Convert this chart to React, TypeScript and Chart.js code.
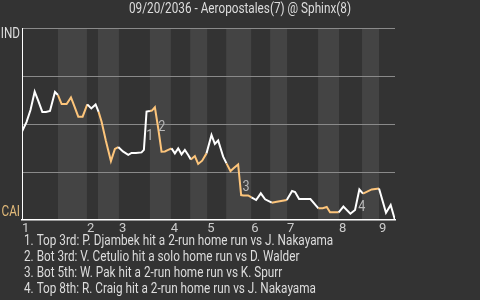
import React, { useEffect, useRef } from "react";
import { Chart, registerables } from "chart.js";

Chart.register(...registerables);

const TITLE = "09/20/2036 - Aeropostales(7) @ Sphinx(8)";
const AWAY_LABEL = "IND";
const HOME_LABEL = "CAI";

// play index (x) and away-team win probability in percent (y)
const PLAYS = [
  0, 1.35, 2.55, 3.81, 4.89, 6.1, 7.2, 8.4, 9.9, 10.8,
  11.9, 13.4, 14.7, 15.8, 16.9, 18.2, 19.6, 20.8, 22.1, 23.0,
  23.9, 25.2, 26.7, 27.9, 28.9, 30.3, 31.9, 32.9, 34.2, 35.9,
  36.6, 37.4, 38.4, 39.0, 39.9, 40.9, 41.9, 42.9, 43.9, 44.9,
  45.9, 46.9, 47.9, 48.9, 49.9, 50.7, 51.9, 52.9, 54.1, 55.4,
  56.9, 57.9, 58.9, 59.6, 60.4, 61.4, 62.6, 63.7, 64.9, 65.8,
  66.5, 67.9, 68.9, 70.3, 71.7, 73.0, 75.0, 76.5, 79.5, 81.1,
  82.0, 83.2, 86.6, 89.0, 90.3, 91.5, 92.5, 95.1, 96.5, 98.6,
  100.0, 101.3, 102.4, 105.0, 107.2, 109.3, 110.7, 112.0,
];
const WIN_PROB = [
  46, 51.0, 57.3, 66.8, 62.0, 56.3, 56.3, 56.8, 66.7, 65.1,
  60.4, 60.4, 63.8, 58.9, 53.8, 53.8, 60.2, 58.1, 60.2, 56.3,
  51.2, 41.1, 30.7, 37.0, 38.0, 35.7, 33.9, 34.9, 34.9, 35.2,
  36.5, 56.5, 56.8, 57.0, 58.7, 47.8, 35.6, 35.7, 36.5, 37.3,
  34.7, 37.3, 34.2, 36.5, 33.9, 31.5, 33.3, 29.2, 30.9, 34.7,
  44.3, 39.6, 41.4, 37.5, 33.0, 29.5, 25.5, 27.2, 28.9, 13.0,
  12.8, 12.8, 11.8, 10.4, 13.9, 10.8, 9.0, 9.5, 10.4, 15.1,
  14.6, 10.9, 10.9, 6.1, 6.1, 6.8, 4.0, 4.0, 7.0, 3.3,
  5.2, 15.9, 13.7, 15.9, 16.4, 3.8, 7.8, 0,
];
const MAX_PLAY = 112;

// half-inning boundaries (play index)
const INNING_STARTS = [0, 19.5, 29.1, 44.7, 55.6, 68.8, 79.6, 95.2, 107.2];
const BOTTOM_STARTS = [10.8, 22.8, 38.4, 50.5, 61.3, 74.5, 88.9, 102.1];
const BOTTOM_ENDS = [19.5, 29.1, 44.7, 55.6, 68.8, 79.6, 95.2, 107.2];

// home run markers
const EVENT_NUMS = ["1", "2", "3", "4"];
const EVENT_X = [38.4, 42.0, 67.3, 102.0];
const EVENT_Y = [43.8, 48.3, 17.0, 6.4];
const EVENT_TEXT = [
  "1. Top 3rd: P. Djambek hit a 2-run home run vs J. Nakayama",
  "2. Bot 3rd: V. Cetulio hit a solo home run vs D. Walder",
  "3. Bot 5th: W. Pak hit a 2-run home run vs K. Spurr",
  "4. Top 8th: R. Craig hit a 2-run home run vs J. Nakayama",
];

const BG = "#333333";
const BAND = "#444444";
const WHITE = "#ffffff";
const ORANGE = "#fdc57b";
const FONT = 'Roboto, "Noto Sans", sans-serif';
const SQUEEZE = 0.84;

const isBottom = (x: number) =>
  BOTTOM_STARTS.some((s, i) => x >= s && x < BOTTOM_ENDS[i]);

function drawText(ctx: CanvasRenderingContext2D, text: string, x: number, y: number, align: CanvasTextAlign) {
  ctx.save();
  ctx.translate(x, y);
  ctx.scale(SQUEEZE, 1);
  ctx.textAlign = align;
  ctx.fillText(text, 0, 0);
  ctx.restore();
}

export default function App() {
  const ref = useRef<HTMLCanvasElement | null>(null);

  useEffect(() => {
    const canvas = ref.current;
    if (!canvas) return;

    const bgPlugin = {
      id: "bgBands",
      beforeDraw(chart: any) {
        const { ctx, chartArea, scales } = chart;
        ctx.save();
        ctx.fillStyle = BG;
        ctx.fillRect(0, 0, chart.width, chart.height);
        ctx.fillStyle = BAND;
        BOTTOM_STARTS.forEach((s, i) => {
          const x0 = scales.x.getPixelForValue(s);
          const x1 = scales.x.getPixelForValue(BOTTOM_ENDS[i]);
          ctx.fillRect(x0, chartArea.top, x1 - x0, chartArea.bottom - chartArea.top);
        });
        ctx.restore();
      },
    };

    const textPlugin = {
      id: "texts",
      afterDraw(chart: any) {
        const { ctx, chartArea, scales } = chart;
        ctx.save();
        ctx.textBaseline = "middle";
        // title
        ctx.font = `14px ${FONT}`;
        ctx.fillStyle = "#dddddd";
        drawText(ctx, TITLE, chart.width / 2, 9, "center");
        // team labels
        ctx.font = `14px ${FONT}`;
        ctx.fillStyle = "#dddddd";
        drawText(ctx, AWAY_LABEL, chartArea.left - 2, chartArea.top + 6, "right");
        ctx.fillStyle = "#e3bb7a";
        drawText(ctx, HOME_LABEL, chartArea.left - 2, chartArea.bottom - 8, "right");
        // event markers
        ctx.font = `15px ${FONT}`;
        ctx.fillStyle = "#b8b8b8";
        EVENT_NUMS.forEach((n, i) => {
          drawText(ctx, n, scales.x.getPixelForValue(EVENT_X[i]), scales.y.getPixelForValue(EVENT_Y[i]), "center");
        });
        // event list
        ctx.font = `14px ${FONT}`;
        ctx.fillStyle = "#dddddd";
        EVENT_TEXT.forEach((t, i) => {
          drawText(ctx, t, 24, 241 + i * 16, "left");
        });
        ctx.restore();
      },
    };

    const chart = new Chart(canvas, {
      type: "line",
      data: {
        datasets: [
          {
            data: PLAYS.map((p, i) => ({ x: p, y: WIN_PROB[i] })),
            borderColor: WHITE,
            borderWidth: 2,
            pointRadius: 0,
            tension: 0,
            segment: {
              borderColor: (c: any) =>
                isBottom((c.p0.parsed.x + c.p1.parsed.x) / 2) ? ORANGE : WHITE,
            },
          },
        ],
      },
      options: {
        animation: false,
        responsive: false,
        maintainAspectRatio: false,
        layout: { padding: { top: 28, right: 85, left: 0, bottom: 0 } },
        plugins: {
          legend: { display: false },
          tooltip: { enabled: false },
          title: { display: false },
        },
        scales: {
          x: {
            type: "linear",
            min: 0,
            max: MAX_PLAY,
            afterFit: (s: any) => {
              s.height = 80;
            },
            afterBuildTicks: (s: any) => {
              s.ticks = INNING_STARTS.map((v) => ({ value: v }));
            },
            grid: { display: false, drawTicks: false, tickLength: 0 },
            border: { display: true, color: WHITE, width: 1.5 },
            ticks: {
              callback: (_v: any, i: number) => String(i + 1),
              color: "#cccccc",
              font: { family: FONT, size: 13 },
              align: "start",
              padding: 1,
              autoSkip: false,
              maxRotation: 0,
              minRotation: 0,
            },
          },
          y: {
            type: "linear",
            min: 0,
            max: 100,
            afterFit: (s: any) => {
              s.width = 22;
            },
            afterBuildTicks: (s: any) => {
              s.ticks = [0, 25, 50, 75, 100].map((v) => ({ value: v }));
            },
            grid: {
              color: "#8a8a8a",
              drawTicks: false,
              lineWidth: (c: any) => (c.tick && c.tick.value === 0 ? 0 : 1),
            },
            border: { display: true, color: WHITE, width: 1 },
            ticks: { display: false },
          },
        },
      } as any,
      plugins: [bgPlugin, textPlugin],
    });

    return () => chart.destroy();
  }, []);

  return (
    <div style={{ position: "absolute", left: 0, top: 0, width: 480, height: 300, background: BG }}>
      <canvas ref={ref} width={480} height={300} style={{ display: "block", width: 480, height: 300 }} />
    </div>
  );
}
